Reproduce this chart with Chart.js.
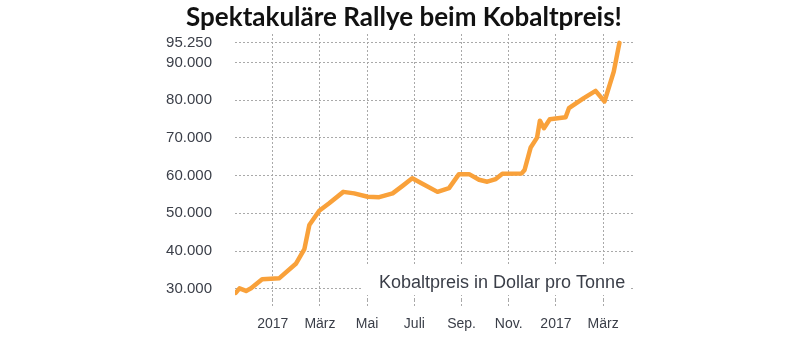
<!DOCTYPE html>
<html lang="de">
<head>
<meta charset="utf-8">
<title>Kobaltpreis</title>
<script src="https://cdn.jsdelivr.net/npm/chart.js@4/dist/chart.umd.min.js"></script>
<style>
  html, body { margin: 0; padding: 0; background: #ffffff; }
  #wrap { width: 800px; height: 340px; }
</style>
</head>
<body>
<div id="wrap"><canvas id="c" width="800" height="340"></canvas></div>
<script>
// Kobaltpreis in US-Dollar pro Tonne; x = Monate ab Januar 2017
const months = [-1.57, -1.41, -1.13, -0.92, -0.45, 0.28, 0.99, 1.34, 1.55, 1.97,
  2.39, 2.99, 3.45, 4.02, 4.51, 5.08, 5.50, 5.91, 6.38, 6.98,
  7.47, 7.89, 8.32, 8.74, 9.09, 9.45, 9.73, 10.55, 10.67, 10.93,
  11.20, 11.32, 11.49, 11.74, 12.41, 12.55, 13.18, 13.68, 14.06, 14.45, 14.69];
const prices = [28900, 30100, 29400, 30100, 32500, 32800, 36700, 40500, 46900, 50700,
  52700, 55700, 55300, 54400, 54300, 55300, 57300, 59300, 57700, 55700,
  56700, 60400, 60400, 58900, 58400, 59100, 60500, 60600, 61500, 67500,
  70100, 74600, 72600, 75000, 75500, 77900, 80600, 82500, 79700, 87600, 95250];

const xTickPositions = [0, 2, 4, 6, 8, 10, 12, 14];
const xTickLabels = ['2017', 'März', 'Mai', 'Juli', 'Sep.', 'Nov.', '2017', 'März'];
const yTickValues = [30000, 40000, 50000, 60000, 70000, 80000, 90000, 95250];

const titleText = 'Spektakuläre Rallye beim Kobaltpreis!';
const unitText = 'Kobaltpreis in Dollar pro Tonne';

function formatDe(v) {
  return String(Math.round(v)).replace(/\B(?=(\d{3})+(?!\d))/g, '.');
}

const gridColor = '#a9a9a9';
const labelColor = '#3a3e48';

// Title above the plot
const titlePlugin = {
  id: 'titleText',
  afterDraw(chart) {
    const ctx = chart.ctx;
    ctx.save();
    ctx.font = 'bold 26px Lato, "Open Sans", sans-serif';
    ctx.fillStyle = '#111111';
    ctx.textAlign = 'center';
    ctx.textBaseline = 'alphabetic';
    ctx.fillText(titleText, 404, 26);
    ctx.restore();
  }
};

// Unit caption on a white box in the lower right of the plot
const unitPlugin = {
  id: 'unitCaption',
  beforeDatasetsDraw(chart) {
    const ctx = chart.ctx;
    ctx.save();
    ctx.fillStyle = '#ffffff';
    ctx.fillRect(362, 266, 268, 29);
    ctx.font = '18px "Liberation Sans", Arial, sans-serif';
    ctx.fillStyle = labelColor;
    ctx.textAlign = 'left';
    ctx.textBaseline = 'alphabetic';
    ctx.fillText(unitText, 379, 288);
    ctx.restore();
  }
};

new Chart(document.getElementById('c'), {
  type: 'line',
  data: {
    datasets: [{
      data: months.map((m, i) => ({ x: m, y: prices[i] })),
      borderColor: '#f9a13a',
      borderWidth: 4.5,
      borderJoinStyle: 'round',
      borderCapStyle: 'round',
      pointRadius: 0,
      tension: 0,
      fill: false
    }]
  },
  options: {
    responsive: false,
    animation: false,
    devicePixelRatio: 1,
    layout: { padding: { left: 160, right: 165, top: 34, bottom: 0 } },
    plugins: {
      legend: { display: false },
      title: { display: false },
      tooltip: { enabled: false }
    },
    scales: {
      x: {
        type: 'linear',
        min: -1.6,
        max: 15.35,
        afterBuildTicks(scale) {
          scale.ticks = xTickPositions.map(v => ({ value: v }));
        },
        afterFit(scale) { scale.height = 40; },
        border: { display: false, dash: [2, 2] },
        grid: {
          color: gridColor,
          lineWidth: 1,
          drawTicks: true,
          tickLength: 8,
          tickColor: gridColor,
          tickBorderDash: [2, 2]
        },
        ticks: {
          autoSkip: false,
          maxRotation: 0,
          padding: 8,
          color: labelColor,
          font: { family: '"Liberation Sans", Arial, sans-serif', size: 14 },
          callback(value) {
            const i = xTickPositions.indexOf(value);
            return i >= 0 ? xTickLabels[i] : '';
          }
        }
      },
      y: {
        type: 'linear',
        min: 27000,
        max: 97600,
        afterBuildTicks(scale) {
          scale.ticks = yTickValues.map(v => ({ value: v }));
        },
        afterFit(scale) { scale.width = 75; },
        border: { display: false, dash: [2, 2] },
        grid: {
          color: gridColor,
          lineWidth: 1,
          drawTicks: false
        },
        ticks: {
          autoSkip: false,
          padding: 23,
          color: labelColor,
          font: { family: '"Liberation Sans", Arial, sans-serif', size: 15 },
          callback(value) { return formatDe(value); }
        }
      }
    }
  },
  plugins: [unitPlugin, titlePlugin]
});
</script>
</body>
</html>
